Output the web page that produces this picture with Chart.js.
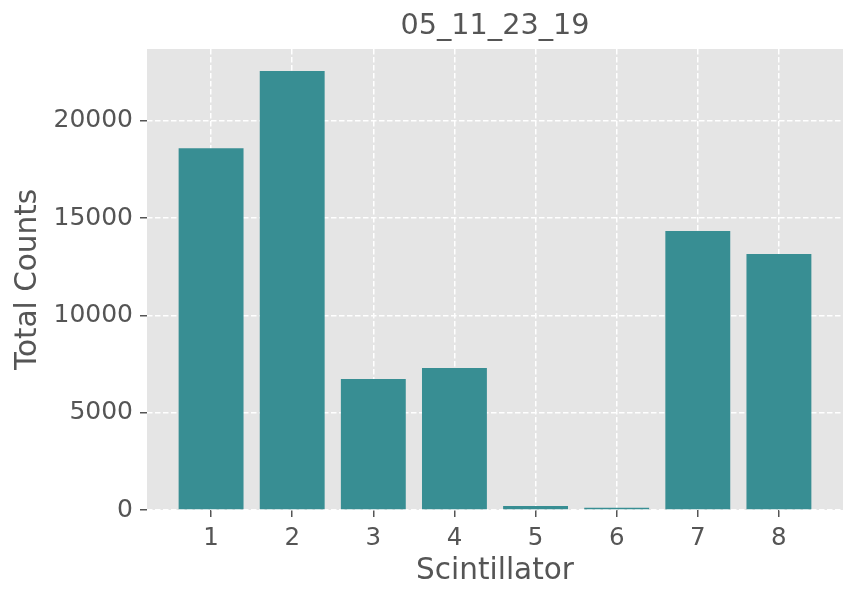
<!DOCTYPE html>
<html>
<head>
<meta charset="utf-8">
<script src="https://cdn.jsdelivr.net/npm/chart.js@4/dist/chart.umd.min.js"></script>
<style>
html,body{margin:0;padding:0;background:#fff;}
#wrap{width:858px;height:601px;position:relative;}
</style>
</head>
<body>
<div id="wrap"><canvas id="c" width="858" height="601"></canvas></div>
<script>
const titleText = "05_11_23_19";
const categories = [1, 2, 3, 4, 5, 6, 7, 8];
const totalCounts = [18600, 22570, 6740, 7300, 210, 110, 14340, 13160];
const yTicks = [0, 5000, 10000, 15000, 20000];
const xLabel = "Scintillator";
const yLabel = "Total Counts";

const FONT = "'DejaVu Sans', sans-serif";
const TXT = '#555555';

const bgPlugin = {
  id: 'bg',
  beforeDraw(chart) {
    const {ctx, chartArea: a} = chart;
    ctx.save();
    ctx.fillStyle = '#E5E5E5';
    ctx.fillRect(a.left, a.top, a.right - a.left, a.bottom - a.top);
    ctx.restore();
  }
};

// Axes title centred over the plotting area (as matplotlib does)
const axesTitlePlugin = {
  id: 'axesTitle',
  afterDraw(chart) {
    const {ctx, chartArea: a} = chart;
    ctx.save();
    ctx.fillStyle = TXT;
    ctx.font = "28.7px " + FONT;
    ctx.textAlign = 'center';
    ctx.textBaseline = 'alphabetic';
    ctx.fillText(titleText, (a.left + a.right) / 2, a.top - 15);
    ctx.restore();
  }
};

new Chart(document.getElementById('c'), {
  type: 'bar',
  data: {
    datasets: [{
      data: categories.map((c, i) => ({x: c, y: totalCounts[i]})),
      backgroundColor: '#388E93',
      borderWidth: 0,
      barPercentage: 0.8,
      categoryPercentage: 1.0
    }]
  },
  options: {
    responsive: false,
    animation: false,
    devicePixelRatio: 1,
    layout: {padding: {left: 0, right: 15, top: 49, bottom: 0}},
    plugins: {
      legend: {display: false},
      tooltip: {enabled: false},
      title: {display: false}
    },
    scales: {
      x: {
        type: 'linear',
        offset: false,
        min: 0.21,
        max: 8.79,
        afterFit(s) { s.height = 91; },
        afterBuildTicks(s) { s.ticks = categories.map(v => ({value: v})); },
        ticks: {color: TXT, font: {family: FONT, size: 24.5}, padding: 7, maxRotation: 0, autoSkip: false,
                callback: v => String(v)},
        grid: {offset: false, color: '#FFFFFF', lineWidth: 1.5, tickColor: '#555555', tickLength: 7, tickWidth: 1.5, tickBorderDash: []},
        border: {display: false, dash: [5.5, 2.5]},
        title: {display: true, text: xLabel, color: TXT, font: {family: FONT, size: 29.5, lineHeight: 1.2}, padding: {top: 0, bottom: 12}}
      },
      y: {
        type: 'linear',
        min: 0,
        max: 23700,
        afterFit(s) { s.width = 147; },
        afterBuildTicks(s) { s.ticks = yTicks.map(v => ({value: v})); },
        ticks: {color: TXT, font: {family: FONT, size: 25}, padding: 7, callback: v => String(v)},
        grid: {color: '#FFFFFF', lineWidth: 1.5, tickColor: '#555555', tickLength: 7, tickWidth: 1.5, tickBorderDash: []},
        border: {display: false, dash: [5.5, 2.5]},
        title: {display: true, text: yLabel, color: TXT, font: {family: FONT, size: 29.5, lineHeight: 1.2}, padding: {top: 11, bottom: 0}}
      }
    }
  },
  plugins: [bgPlugin, axesTitlePlugin]
});
</script>
</body>
</html>
